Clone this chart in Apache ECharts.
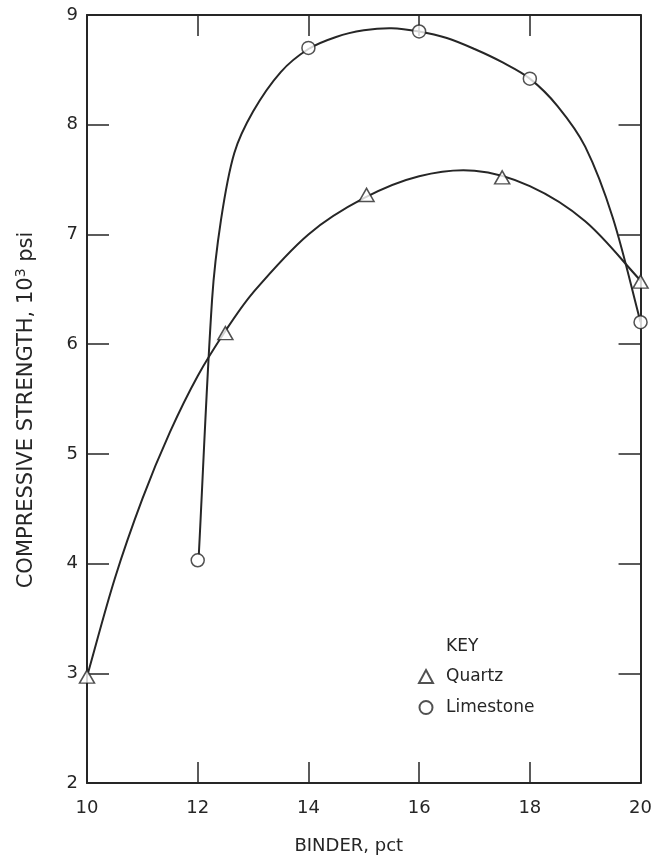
<!DOCTYPE html>
<html>
<head>
<meta charset="utf-8">
<script src="https://cdn.jsdelivr.net/npm/echarts@6/dist/echarts.min.js"></script>
<style>html,body{margin:0;padding:0;background:#fff;}#c{width:655px;height:860px;}</style>
</head>
<body>
<div id="c"></div>
<script>
// Measured data points (binder pct, compressive strength 10^3 psi)
const quartzPoints = [[10, 2.97], [12.5, 6.1], [15.05, 7.36], [17.5, 7.52], [20, 6.57]];
const limestonePoints = [[12, 4.03], [14, 8.70], [16, 8.85], [18, 8.42], [20, 6.2]];
// Hand-drawn fitted curves
const quartzCurve = [[10, 2.97], [10.5, 3.86], [11, 4.59], [11.5, 5.2], [12, 5.71], [12.5, 6.12], [13, 6.47], [14, 7.0], [15, 7.33], [16, 7.53], [17, 7.58], [18, 7.44], [19, 7.12], [20, 6.58]];
const limestoneCurve = [[12.02, 4.08], [12.26, 6.41], [12.42, 7.13], [12.66, 7.74], [13.0, 8.12], [13.5, 8.48], [14.0, 8.69], [14.5, 8.8], [15, 8.86], [15.5, 8.88], [16, 8.85], [16.5, 8.79], [17, 8.69], [17.5, 8.57], [18, 8.42], [18.5, 8.17], [19, 7.8], [19.5, 7.15], [20, 6.2]];
const xTicks = [10, 12, 14, 16, 18, 20];
const yTicks = [2, 3, 4, 5, 6, 7, 8, 9];

const ink = '#262626';
const font = 'DejaVu Sans';

// Draws a smooth path through the curve's points (chord-length cubic Hermite)
function curveRenderer(params, api) {
  if (params.dataIndexInside !== 0) return null;
  const n = params.dataInsideLength;
  const p = [];
  for (let i = 0; i < n; i++) p.push(api.coord([api.value(0, i), api.value(1, i)]));
  const d = (a, b) => Math.hypot(b[0] - a[0], b[1] - a[1]);
  const tan = [];
  for (let i = 0; i < n; i++) {
    if (i === 0) { const l = d(p[0], p[1]); tan.push([(p[1][0] - p[0][0]) / l, (p[1][1] - p[0][1]) / l]); }
    else if (i === n - 1) { const l = d(p[n - 2], p[n - 1]); tan.push([(p[n - 1][0] - p[n - 2][0]) / l, (p[n - 1][1] - p[n - 2][1]) / l]); }
    else {
      const l = d(p[i - 1], p[i]) + d(p[i], p[i + 1]);
      tan.push([(p[i + 1][0] - p[i - 1][0]) / l, (p[i + 1][1] - p[i - 1][1]) / l]);
    }
  }
  let path = 'M' + p[0][0] + ' ' + p[0][1];
  for (let i = 0; i < n - 1; i++) {
    const l = d(p[i], p[i + 1]) / 3;
    const c1 = [p[i][0] + tan[i][0] * l, p[i][1] + tan[i][1] * l];
    const c2 = [p[i + 1][0] - tan[i + 1][0] * l, p[i + 1][1] - tan[i + 1][1] * l];
    path += ' C' + c1[0] + ' ' + c1[1] + ' ' + c2[0] + ' ' + c2[1] + ' ' + p[i + 1][0] + ' ' + p[i + 1][1];
  }
  return {type: 'path', shape: {pathData: path}, style: {stroke: ink, lineWidth: 2, fill: null}, silent: true};
}

const chart = echarts.init(document.getElementById('c'), null, {renderer: 'canvas'});
const lineAxis = {show: true, onZero: false, lineStyle: {color: ink, width: 2}};
chart.setOption({
  animation: false,
  backgroundColor: '#fff',
  textStyle: {fontFamily: font, color: ink},
  title: {text: 'KEY', left: 441, top: 633, textStyle: {fontFamily: font, fontSize: 17, fontWeight: 'normal', color: ink}},
  legend: {
    orient: 'vertical', left: 413, top: 663, itemWidth: 14, itemHeight: 13, itemGap: 14,
    data: ['Quartz', 'Limestone'],
    textStyle: {fontFamily: font, fontSize: 17, color: ink, padding: [0, 0, 0, 8]}
  },
  grid: {left: 87, right: 12, top: 15, bottom: 76, containLabel: false},
  xAxis: [{
    type: 'value', min: 10, max: 20, interval: 2, position: 'bottom',
    name: 'BINDER, pct', nameLocation: 'middle', nameGap: 54,
    nameTextStyle: {fontFamily: font, fontSize: 18, color: ink, padding: [0, 30, 0, 0]},
    axisLine: lineAxis,
    axisTick: {show: true, inside: true, length: 21, lineStyle: {color: ink, width: 1.5}},
    axisLabel: {margin: 16, fontFamily: font, fontSize: 18, color: ink, formatter: v => xTicks.includes(v) ? String(v) : ''},
    splitLine: {show: false}
  }, {
    type: 'value', min: 10, max: 20, interval: 2, position: 'top',
    axisLine: lineAxis,
    axisTick: {show: true, inside: true, length: 21, lineStyle: {color: ink, width: 1.5}},
    axisLabel: {show: false}, splitLine: {show: false}
  }],
  yAxis: [{
    type: 'value', min: 2, max: 9, interval: 1, position: 'left',
    name: 'COMPRESSIVE STRENGTH, 10{sup|3} psi', nameLocation: 'middle', nameGap: 47,
    nameTextStyle: {fontFamily: font, fontSize: 21, color: ink, padding: [0, 22, 0, 0],
      rich: {sup: {fontFamily: font, fontSize: 14, color: ink, padding: [0, 0, 12, 0]}}},
    axisLine: lineAxis,
    axisTick: {show: true, inside: true, length: 22, lineStyle: {color: ink, width: 1.5}},
    axisLabel: {margin: 9, fontFamily: font, fontSize: 18, color: ink, formatter: v => yTicks.includes(v) ? String(v) : ''},
    splitLine: {show: false}
  }, {
    type: 'value', min: 2, max: 9, interval: 1, position: 'right',
    axisLine: lineAxis,
    axisTick: {show: true, inside: true, length: 22, lineStyle: {color: ink, width: 1.5}},
    axisLabel: {show: false}, splitLine: {show: false}
  }],
  series: [
    {name: 'quartzCurve', type: 'custom', coordinateSystem: 'cartesian2d', data: quartzCurve,
     renderItem: curveRenderer, z: 2, silent: true, clip: false},
    {name: 'limestoneCurve', type: 'custom', coordinateSystem: 'cartesian2d', data: limestoneCurve,
     renderItem: curveRenderer, z: 2, silent: true, clip: false},
    {name: 'Quartz', type: 'scatter', data: quartzPoints, symbol: 'triangle', symbolSize: [15, 13],
     itemStyle: {color: '#fff', borderColor: ink, borderWidth: 1.5}, z: 5},
    {name: 'Limestone', type: 'scatter', data: limestonePoints, symbol: 'circle', symbolSize: 13,
     itemStyle: {color: '#fff', borderColor: ink, borderWidth: 1.5}, z: 5}
  ]
});
</script>
</body>
</html>
